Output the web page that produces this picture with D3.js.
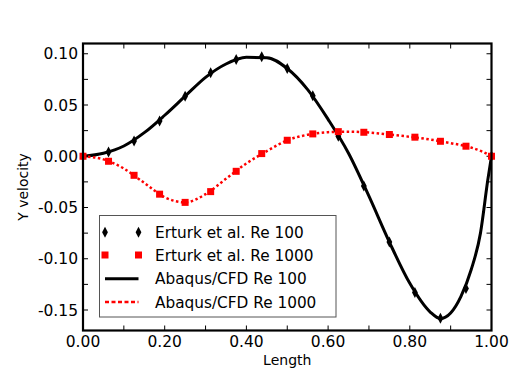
<!DOCTYPE html>
<html><head><meta charset="utf-8">
<script src="https://cdn.jsdelivr.net/npm/d3@7"></script>
<style>
html,body{margin:0;padding:0;background:#fff;}
text{font-family:"DejaVu Sans",sans-serif;fill:#000;}
</style></head>
<body><svg id="c" width="516" height="383"></svg>
<script>
// Erturk et al. benchmark points (x every 1/16)
const erturkX = [0, 0.0625, 0.125, 0.1875, 0.25, 0.3125, 0.375, 0.4375, 0.5, 0.5625, 0.625, 0.6875, 0.75, 0.8125, 0.875, 0.9375, 1.0];
const erturkRe100 = [0, 0.0042, 0.015, 0.0345, 0.0586, 0.0814, 0.0944, 0.097, 0.0856, 0.059, 0.0195, -0.029, -0.0837, -0.133, -0.158, -0.129, 0];
const erturkRe1000 = [0, -0.0049, -0.0186, -0.037, -0.045, -0.0345, -0.0147, 0.0026, 0.0156, 0.0218, 0.024, 0.0234, 0.0212, 0.0186, 0.0146, 0.0098, 0];
// Abaqus/CFD curves
const cfdX100 = [0, 0.05, 0.1, 0.15, 0.2, 0.25, 0.3, 0.35, 0.4, 0.45, 0.5, 0.55, 0.6, 0.65, 0.7, 0.75, 0.8, 0.85, 0.875, 0.9, 0.925, 0.95, 0.973, 0.991, 1.0];
const cfdRe100 = [0, 0.003, 0.010, 0.023, 0.040, 0.0586, 0.077, 0.090, 0.0965, 0.0962, 0.0856, 0.065, 0.036, 0.003, -0.039, -0.0837, -0.124, -0.152, -0.1585, -0.153, -0.137, -0.111, -0.075, -0.023, 0];
const cfdX1000 = [0, 0.05, 0.1, 0.15, 0.2, 0.25, 0.3, 0.35, 0.4, 0.45, 0.5, 0.55, 0.6, 0.65, 0.7, 0.75, 0.8, 0.85, 0.9, 0.95, 0.975, 1.0];
const cfdRe1000 = [0, -0.003, -0.012, -0.026, -0.040, -0.045, -0.037, -0.022, -0.007, 0.005, 0.0155, 0.021, 0.0235, 0.024, 0.0232, 0.0212, 0.019, 0.0163, 0.0128, 0.0085, 0.005, 0];
// Ticks
const xTickValues = [0, 0.2, 0.4, 0.6, 0.8, 1.0];
const xTickLabels = ["0.00", "0.20", "0.40", "0.60", "0.80", "1.00"];
const yTickValues = [0.10, 0.05, 0.00, -0.05, -0.10, -0.15];
const yTickLabels = ["0.10", "0.05", "0.00", "-0.05", "-0.10", "-0.15"];
const seriesNames = ["Erturk et al. Re 100", "Erturk et al. Re 1000", "Abaqus/CFD Re 100", "Abaqus/CFD Re 1000"];

const svg = d3.select("#c");
const L = 83, R = 491.5, T = 43.5, B = 330.5;
const x = d3.scaleLinear().domain([0, 1]).range([L, R]);
const y = d3.scaleLinear().domain([-0.17, 0.11]).range([B, T]);

const g = svg.append("g");

// minor/major ticks all around (inward)
const xTicksAll = d3.range(0, 1.0001, 0.1);
const yTicksAll = d3.range(-0.15, 0.1001, 0.025);
const tl = 5;
xTicksAll.forEach(v => {
  g.append("line").attr("x1", x(v)).attr("x2", x(v)).attr("y1", B).attr("y2", B - tl).attr("stroke", "#000").attr("stroke-width", 1);
  g.append("line").attr("x1", x(v)).attr("x2", x(v)).attr("y1", T).attr("y2", T + tl).attr("stroke", "#000").attr("stroke-width", 1);
});
yTicksAll.forEach(v => {
  g.append("line").attr("x1", L).attr("x2", L + tl).attr("y1", y(v)).attr("y2", y(v)).attr("stroke", "#000").attr("stroke-width", 1);
  g.append("line").attr("x1", R).attr("x2", R - tl).attr("y1", y(v)).attr("y2", y(v)).attr("stroke", "#000").attr("stroke-width", 1);
});

// tick labels
xTickValues.forEach((v, i) => {
  g.append("text").attr("x", x(v)).attr("y", B + 16).attr("text-anchor", "middle")
    .style("font-size", "15.5px").text(xTickLabels[i]);
});
yTickValues.forEach((v, i) => {
  g.append("text").attr("x", L - 5).attr("y", y(v)).attr("dy", "0.36em").attr("text-anchor", "end")
    .style("font-size", "15.5px").text(yTickLabels[i]);
});

// axis labels
g.append("text").attr("x", (L + R) / 2).attr("y", 365).attr("text-anchor", "middle").style("font-size", "14px").text("Length");
g.append("text").attr("transform", `translate(27.5,${(T + B) / 2}) rotate(-90)`).attr("text-anchor", "middle").style("font-size", "14px").text("Y velocity");

// clip
svg.append("clipPath").attr("id", "clip").append("rect").attr("x", L).attr("y", T).attr("width", R - L).attr("height", B - T);
const plot = svg.append("g").attr("clip-path", "url(#clip)");
const plotNoClip = svg.append("g");

const diamond = "M0,-5.5 L2.9,0 L0,5.5 L-2.9,0 Z";

// Erturk markers
plotNoClip.selectAll("path.d100").data(erturkX.map((v, i) => [v, erturkRe100[i]])).enter()
  .append("path").attr("d", diamond).attr("transform", d => `translate(${x(d[0])},${y(d[1])})`).attr("fill", "#000");

const line = d3.line().x(d => x(d[0])).y(d => y(d[1])).curve(d3.curveMonotoneX);
plot.append("path").datum(cfdX100.map((v, i) => [v, cfdRe100[i]])).attr("d", line)
  .attr("fill", "none").attr("stroke", "#000").attr("stroke-width", 3);

plotNoClip.selectAll("rect.s1000").data(erturkX.map((v, i) => [v, erturkRe1000[i]])).enter()
  .append("rect").attr("x", d => x(d[0]) - 3.5).attr("y", d => y(d[1]) - 3.5).attr("width", 7).attr("height", 7).attr("fill", "#f00");

plot.append("path").datum(cfdX1000.map((v, i) => [v, cfdRe1000[i]])).attr("d", line)
  .attr("fill", "none").attr("stroke", "#f00").attr("stroke-width", 2.5).attr("stroke-dasharray", "2.5,2.5");

// frame
svg.append("rect").attr("x", L).attr("y", T).attr("width", R - L).attr("height", B - T)
  .attr("fill", "none").attr("stroke", "#000").attr("stroke-width", 2.2);

// legend
const lg = svg.append("g");
lg.append("rect").attr("x", 99.5).attr("y", 215.5).attr("width", 236.5).attr("height", 101.5)
  .attr("fill", "#fff").attr("stroke", "#555").attr("stroke-width", 1);
const rowY = [232.3, 255, 278.7, 302];
const mx1 = 105, mx2 = 138.5;
[mx1, mx2].forEach(mx => {
  lg.append("path").attr("d", diamond).attr("transform", `translate(${mx},${rowY[0]})`).attr("fill", "#000");
  lg.append("rect").attr("x", mx - 3.5).attr("y", rowY[1] - 3.5).attr("width", 7).attr("height", 7).attr("fill", "#f00");
});
lg.append("line").attr("x1", mx1).attr("x2", mx2).attr("y1", rowY[2]).attr("y2", rowY[2]).attr("stroke", "#000").attr("stroke-width", 3);
lg.append("line").attr("x1", mx1).attr("x2", mx2).attr("y1", rowY[3]).attr("y2", rowY[3]).attr("stroke", "#f00").attr("stroke-width", 2.5).attr("stroke-dasharray", "4,2.5");
seriesNames.forEach((s, i) => {
  lg.append("text").attr("x", 155).attr("y", rowY[i]).attr("dy", "0.36em").style("font-size", "15.3px").text(s);
});
</script></body></html>
